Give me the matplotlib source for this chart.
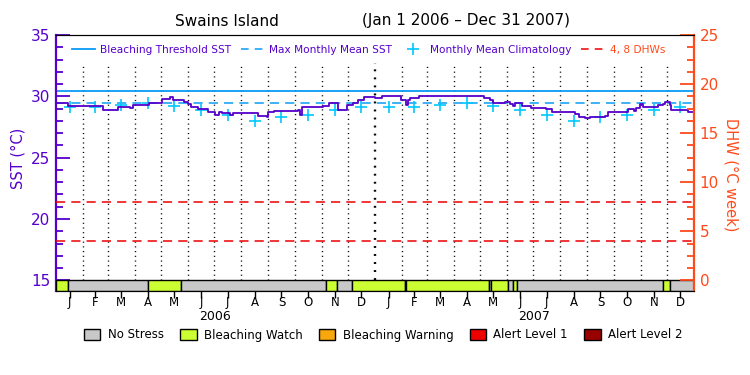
import calendar
import matplotlib
matplotlib.use("Agg")
import matplotlib.pyplot as plt
import matplotlib.transforms as mtransforms
from matplotlib.lines import Line2D
from matplotlib.patches import Patch

# --- data (days counted from 1 Jan 2006) ---
sst_days = [0, 14, 30, 50, 54, 69, 71, 83, 85, 88, 104, 106, 119, 121, 126, 130, 134,
            144, 146, 151, 155, 163, 172, 174, 180, 182, 186, 190, 195, 199, 203, 211,
            218, 230, 231, 241, 243, 250, 268, 277, 279, 281, 302, 306, 312, 321, 323,
            329, 333, 340, 346, 352, 365, 373, 390, 395, 400, 403, 405, 415, 450, 470,
            487, 490, 497, 500, 514, 519, 523, 525, 533, 544, 552, 561, 567, 592, 594,
            598, 605, 609, 611, 620, 628, 632, 649, 655, 661, 664, 668, 672, 687, 689,
            695, 697, 701, 702, 704, 716, 723, 730]
sst_values = [29.48, 29.21, 29.21, 29.18, 28.88, 28.88, 29.10, 29.10, 29.02, 29.26, 29.26,
              29.48, 29.48, 29.75, 29.80, 29.91, 29.69, 29.69, 29.56, 29.37, 29.15, 28.94,
              28.94, 28.74, 28.74, 28.47, 28.74, 28.61, 28.61, 28.47, 28.61, 28.61, 28.66,
              28.61, 28.39, 28.33, 28.74, 28.82, 28.82, 28.88, 28.47, 29.10, 29.10, 29.21,
              29.48, 29.48, 28.88, 28.88, 29.26, 29.48, 29.69, 29.96, 29.83, 30.02, 30.02,
              29.69, 29.29, 29.69, 29.83, 30.02, 30.00, 30.02, 30.02, 29.83, 29.69, 29.43,
              29.51, 29.34, 29.23, 29.43, 29.23, 29.07, 29.07, 28.96, 28.74, 28.74, 28.53,
              28.33, 28.25, 28.25, 28.33, 28.33, 28.42, 28.69, 28.74, 28.96, 28.80, 29.07,
              29.34, 29.15, 29.15, 29.29, 29.34, 29.56, 29.51, 29.29, 28.88, 28.88, 28.74,
              28.80]
clim_values = [29.10, 29.10, 29.28, 29.43, 29.25, 28.85, 28.45, 28.01, 28.28, 28.45, 28.85, 29.12]
mmm = 29.45
threshold = 30.45
dhw_levels = [4, 8]

stress_start = [0, 14, 105, 143, 309, 321, 339, 399, 401, 495, 498, 517, 523, 527, 695, 702]
stress_end = [14, 105, 143, 309, 321, 339, 399, 401, 495, 498, 517, 523, 527, 695, 702, 730]
stress_level = [1, 0, 1, 0, 1, 0, 1, 0, 1, 0, 1, 0, 1, 0, 1, 0]
stress_names = ['No Stress', 'Bleaching Watch', 'Bleaching Warning', 'Alert Level 1', 'Alert Level 2']
stress_colors = ['#c8c8c8', '#ccff33', '#f8a80c', '#ee0000', '#990000']

month_letters = ['J', 'F', 'M', 'A', 'M', 'J', 'J', 'A', 'S', 'O', 'N', 'D']
years = [2006, 2007]

PURPLE = '#5500cc'
BLUE = '#0a9bf5'
CYAN = '#00c8ff'
ORANGE = '#ff4a1a'
RED = '#ee0000'

# month geometry
month_starts, month_mids = [], []
d = 0
for y in years:
    for m in range(1, 13):
        n = calendar.monthrange(y, m)[1]
        month_starts.append(d)
        month_mids.append(d + n / 2)
        d += n
total_days = d

ybot = 15 - 10.2 / 12.27

fig = plt.figure(figsize=(7.5, 3.75), dpi=100)
ax = fig.add_axes([56 / 750, (375 - 290.5) / 375, 638 / 750, 255.5 / 375])
ax.set_xlim(0, total_days)
ax.set_ylim(ybot, 35)

# stress bar
for s, e, lv in zip(stress_start, stress_end, stress_level):
    ax.bar(s, 15 - ybot, width=e - s, bottom=ybot, align='edge',
           color=stress_colors[lv], edgecolor='black', linewidth=1, zorder=3)

# month gridlines
for i, ms in enumerate(month_starts[1:], start=1):
    lw = 1.7 if i == 12 else 1
    ax.vlines(ms, 15, 32.7, colors='black', linestyles=(0, (0.8, 2.6)), linewidth=lw, zorder=1)

ax.axhline(threshold, color=BLUE, lw=1.3, zorder=2)
ax.axhline(mmm, color=BLUE, lw=1.1, dashes=(6, 4), zorder=2)
ax.plot(month_mids, clim_values * 2, ls='none', marker='+', ms=8, mew=1.2, color=CYAN, zorder=4)
ax.plot(sst_days, sst_values, drawstyle='steps-post', color=PURPLE, lw=1.3, zorder=5)

# left axis
ax.set_yticks(range(15, 36, 5))
ax.set_yticks(range(15, 36), minor=True)
ax.tick_params(axis='y', which='major', direction='in', length=10, width=1.3,
               colors=PURPLE, labelsize=11, pad=4)
ax.tick_params(axis='y', which='minor', direction='in', length=5, width=1.3, colors=PURPLE)
ax.spines['left'].set_color(PURPLE)
ax.spines['left'].set_linewidth(1.6)
ax.spines['right'].set_visible(False)

# x axis
ax.set_xticks(month_mids)
ax.set_xticklabels(month_letters * 2, fontsize=8.5)
ax.tick_params(axis='x', direction='out', length=5, width=1, pad=-1)
trans = mtransforms.blended_transform_factory(ax.transData, ax.transAxes)
for i, y in enumerate(years):
    ax.text(month_starts[i * 12] + 182.5, -0.1, str(y), transform=trans,
            ha='center', va='center', fontsize=9)

# right axis (DHW)
ax2 = ax.twinx()
ax2.set_ylim((ybot - 15) * 1.25, 25)
for lv in dhw_levels:
    ax2.axhline(lv, color=RED, lw=1.1, dashes=(6, 4))
ax2.set_yticks(range(0, 26, 5))
ax2.set_yticks([i * 1.25 for i in range(0, 21)], minor=True)
ax2.tick_params(axis='y', which='major', direction='in', length=10, width=1.3,
                colors=ORANGE, labelsize=11, pad=4)
ax2.tick_params(axis='y', which='minor', direction='in', length=5, width=1.3, colors=ORANGE)
ax2.spines['right'].set_color(ORANGE)
ax2.spines['right'].set_linewidth(1.6)
ax2.spines['left'].set_visible(False)

# axis titles
fig.text(18 / 750, 1 - 158 / 375, 'SST (°C)', rotation=90, ha='center', va='center',
         color=PURPLE, fontsize=10.5)
fig.text(731 / 750, 1 - 175 / 375, 'DHW (°C week)', rotation=270, ha='center', va='center',
         color=ORANGE, fontsize=10.5)

# title
fig.text(227 / 750, 1 - 21 / 375, 'Swains Island', ha='center', va='center', fontsize=11)
fig.text(466 / 750, 1 - 21 / 375, '(Jan 1 2006 – Dec 31 2007)', ha='center', va='center',
         fontsize=11)

# top legend
handles = [Line2D([], [], color=BLUE, lw=1.3),
           Line2D([], [], color=BLUE, lw=1.1, dashes=(5, 4)),
           Line2D([], [], color=CYAN, ls='none', marker='+', ms=8, mew=1.2),
           Line2D([], [], color=RED, lw=1.1, dashes=(5, 4))]
labels = ['Bleaching Threshold SST', 'Max Monthly Mean SST', 'Monthly Mean Climatology', '4, 8 DHWs']
leg = ax2.legend(handles, labels, ncol=4, loc='center', bbox_to_anchor=(0.49, 0.941),
                 frameon=False, fontsize=7.6, handlelength=2.2, handletextpad=0.5,
                 columnspacing=0.9, borderpad=0)
for t, c in zip(leg.get_texts(), [PURPLE, PURPLE, PURPLE, ORANGE]):
    t.set_color(c)

# stress legend
patches = [Patch(facecolor=c, edgecolor='black', linewidth=1) for c in stress_colors]
fig.legend(patches, stress_names, ncol=5, loc='center', bbox_to_anchor=(0.511, 1 - 335 / 375),
           frameon=False, fontsize=8.5, handlelength=1.4, handleheight=1.0,
           handletextpad=0.6, columnspacing=1.4, borderpad=0)

fig.savefig('out.png', dpi=100)
